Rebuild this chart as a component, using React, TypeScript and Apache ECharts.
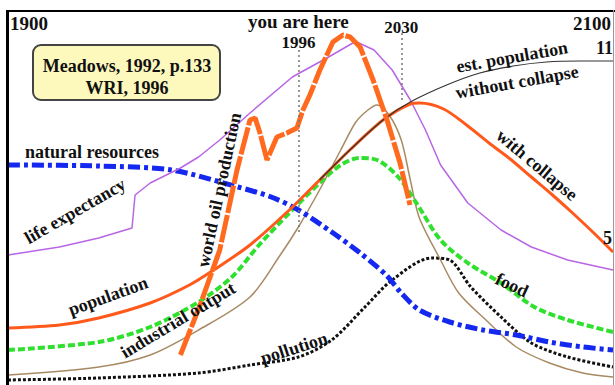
import React, { useEffect, useRef } from "react";
import * as echarts from "echarts";

// x: year, y: arbitrary index (0 = bottom of frame)
const naturalResources = [[1900,220],[1930,219],[1954,215],[1976,198],[1987,188],[1996,175],[2007,153],[2016,133],[2025,110],[2030,92],[2036,75],[2046,63],[2057,55],[2068,50],[2079,43],[2090,38],[2100,35]];
const population = [[1900,57],[1917,60],[1930,67],[1947,82],[1960,100],[1968,115],[1980,140],[1993,175],[2003,205],[2013,235],[2024,265],[2033,281],[2036,282],[2044,276],[2052,259],[2059,242],[2066,226],[2073,208],[2080,190],[2087,171],[2094,151],[2100,133]];
const populationNoCollapse = [[2003,205],[2013,235],[2024,265],[2033,283],[2045,300],[2056,312],[2067,319],[2078,323],[2089,324],[2100,324]];
const food = [[1900,35],[1930,43],[1947,58],[1963,83],[1974,108],[1983,140],[1993,172],[2003,202],[2010,220],[2016,227],[2022,225],[2029,208],[2035,182],[2043,145],[2052,122],[2063,102],[2074,78],[2085,65],[2100,53]];
const industrialOutput = [[1900,10],[1930,18],[1947,30],[1963,55],[1980,88],[1990,130],[1996,158],[2003,195],[2010,235],[2015,263],[2019,275],[2022,280],[2026,270],[2030,245],[2033,205],[2036,167],[2043,125],[2049,92],[2058,65],[2068,38],[2079,22],[2090,12],[2100,8]];
const pollution = [[1900,5],[1930,7],[1963,12],[1980,20],[1996,28],[2007,45],[2018,78],[2027,105],[2040,127],[2046,125],[2053,98],[2063,68],[2073,42],[2085,28],[2100,18]];
const lifeExpectancy = [[1900,130],[1917,138],[1930,147],[1941,157],[1942,190],[1947,202],[1957,217],[1963,228],[1970,245],[1980,272],[1994,308],[2006,328],[2014,342],[2016,342],[2021,335],[2027,315],[2033,285],[2038,255],[2043,220],[2052,182],[2063,155],[2073,138],[2085,125],[2100,115]];
const worldOil = [[1957,30],[1963.5,80],[1970,135],[1975.7,215],[1980,265],[1981.7,267],[1983.3,252],[1985.6,225],[1988.9,248],[1992.2,252],[1995.5,257],[1997.5,275],[1999.8,290],[2003.1,315],[2007.4,343],[2010.7,350],[2013.1,348],[2016.4,338],[2020.7,305],[2025.3,265],[2029.6,222],[2032.9,180]];

const markYears = [1996, 2030];
const markSpans = [[150, 335], [283, 352]];
const sourceLines = ["Meadows, 1992, p.133", "WRI, 1996"];

const FONT = '"Liberation Serif", "Times New Roman", serif';

function txt(text: string, x: number, y: number, deg: number, size = 18, align = "center") {
  return {
    type: "text",
    x,
    y,
    rotation: (deg * Math.PI) / 180,
    z: 100,
    style: {
      text,
      fill: "#111",
      font: `bold ${size}px ${FONT}`,
      align,
      textAlign: align,
      verticalAlign: "middle",
      textVerticalAlign: "middle",
    },
  };
}

export default function App() {
  const ref = useRef<HTMLDivElement>(null);
  useEffect(() => {
    if (!ref.current) return;
    const chart = echarts.init(ref.current, undefined, { renderer: "svg" });
    const line = (data: number[][], color: string, width: number, type: any, smooth: any = 0.3, z = 2) => ({
      type: "line",
      data,
      showSymbol: false,
      symbol: "none",
      smooth,
      z,
      lineStyle: { color, width, type, cap: "butt" },
      silent: true,
    });
    chart.setOption({
      animation: false,
      grid: { left: 8, right: 2, top: 10, bottom: 0 },
      xAxis: { type: "value", min: 1900, max: 2100, show: false },
      yAxis: { type: "value", min: 0, max: 375, show: false },
      series: [
        {
          ...line(pollution, "#111", 3, [3, 2]),
          markLine: {
            symbol: "none",
            silent: true,
            label: { show: false },
            lineStyle: { color: "#777", width: 1.5, type: [2, 3] },
            data: markYears.map((yr, i) => [
              { coord: [yr, markSpans[i][1]] },
              { coord: [yr, markSpans[i][0]] },
            ]),
          },
        },
        line(industrialOutput, "#a88a62", 1.5, "solid"),
        line(food, "#2fe02f", 4, [7, 3]),
        line(naturalResources, "#1428f0", 5, [12, 4, 4, 4]),
        line(lifeExpectancy, "#b866e4", 1.5, "solid", false),
        line(population, "#ff5a1c", 3, "solid"),
        line(populationNoCollapse, "#333", 1.2, "solid"),
        line(worldOil, "#ff6a1e", 5, [28, 2], false, 3),
      ],
    });
    const px1996 = chart.convertToPixel({ xAxisIndex: 0 }, markYears[0]) as number;
    const px2030 = chart.convertToPixel({ xAxisIndex: 0 }, markYears[1]) as number;
    chart.setOption({
      graphic: [
        { type: "line", shape: { x1: 7.5, y1: 10, x2: 7.5, y2: 385 }, style: { stroke: "#000", lineWidth: 3 }, z: 90 },
        { type: "line", shape: { x1: 6, y1: 11, x2: 615, y2: 11 }, style: { stroke: "#000", lineWidth: 2 }, z: 90 },
        { type: "line", shape: { x1: 613.5, y1: 10, x2: 613.5, y2: 385 }, style: { stroke: "#999", lineWidth: 1 }, z: 90 },
        { type: "rect", shape: { x: 33, y: 45, width: 187, height: 55, r: 8 }, style: { fill: "#fdf9bd", stroke: "#444", lineWidth: 2 }, z: 95 },
        txt(sourceLines[0], 127, 66, 0, 18),
        txt(sourceLines[1], 127, 88, 0, 18),
        txt("1900", 10, 23, 0, 19, "left"),
        txt("2100", 611, 23, 0, 19, "right"),
        txt("11", 613, 48, 0, 18, "right"),
        txt("5", 612, 238, 0, 18, "right"),
        txt("you are here", px1996, 21, 0, 19),
        txt(String(markYears[0]), px1996, 42, 0, 17),
        txt(String(markYears[1]), px2030, 27, 0, 17),
        txt("est. population", 512, 57, 10, 18),
        txt("without collapse", 517, 82, 10, 18),
        txt("natural resources", 92, 152, 0, 18),
        txt("life expectancy", 75, 211, 30, 18),
        txt("world oil production", 219, 190, 78, 18),
        txt("population", 108, 296, 20, 18),
        txt("industrial output", 178, 320, 31, 18),
        txt("pollution", 294, 348, 18, 18),
        txt("food", 512, 285, -25, 18),
        txt("with collapse", 537, 165, -40, 18),
      ],
    });
    return () => chart.dispose();
  }, []);
  return <div ref={ref} style={{ position: "absolute", left: 0, top: 0, width: 615, height: 385, background: "#fff" }} />;
}
